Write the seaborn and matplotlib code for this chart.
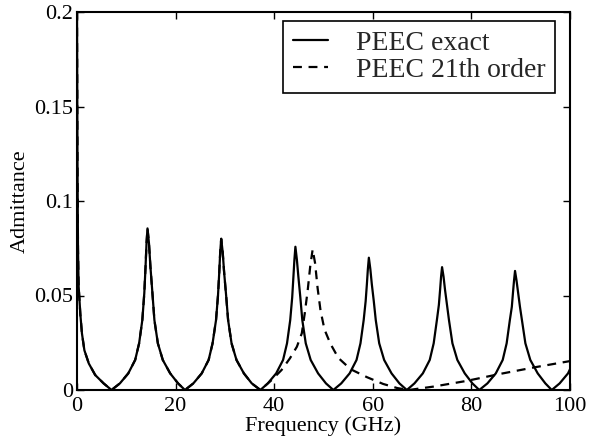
import matplotlib
matplotlib.use("Agg")
import matplotlib.pyplot as plt
import seaborn as sns
import pandas as pd
from matplotlib.ticker import FixedLocator, FuncFormatter

# ---- data ----
exact_x = [0, 0.1, 0.2, 0.33, 0.68, 1.0, 1.5, 2.4, 3.7, 5.4,
           7.0, 8.7, 10.4, 11.8, 12.6, 13.25, 13.65, 13.9, 14.1, 14.3, 14.6, 14.9, 15.3, 15.7, 16.4, 17.4, 18.9, 20.5,
           21.9, 23.6, 25.3, 26.7, 27.5, 28.2, 28.6, 28.85, 29.05, 29.25, 29.55, 29.85, 30.25, 30.65, 31.35, 32.35, 33.85, 35.45,
           37.2, 38.7, 40.4, 41.8, 42.6, 43.25, 43.65, 43.9, 44.1, 44.3, 44.6, 44.9, 45.3, 45.7, 46.4, 47.4, 48.9, 50.5,
           52.0, 53.6, 55.3, 56.7, 57.5, 58.15, 58.55, 58.8, 59.0, 59.2, 59.5, 59.8, 60.2, 60.6, 61.3, 62.3, 63.8, 65.4,
           66.9, 68.45, 70.15, 71.55, 72.35, 73.0, 73.4, 73.65, 73.85, 74.05, 74.35, 74.65, 75.05, 75.45, 76.15, 77.15, 78.65, 80.2,
           81.6, 83.25, 84.95, 86.35, 87.15, 87.8, 88.2, 88.45, 88.65, 88.85, 89.15, 89.45, 89.85, 90.25, 90.95, 91.95, 93.45, 95.0,
           96.3, 97.9, 99.6, 100]
exact_y = [0.2, 0.12, 0.075, 0.055, 0.040, 0.030, 0.021, 0.014, 0.0079, 0.0035,
           0, 0.0035, 0.0088, 0.0159, 0.0247, 0.037, 0.0512, 0.065, 0.0776, 0.0855, 0.0776, 0.065, 0.0512, 0.037, 0.0247, 0.0159, 0.0088, 0.0035,
           0, 0.0035, 0.0088, 0.0159, 0.0247, 0.037, 0.050, 0.062, 0.073, 0.080, 0.073, 0.062, 0.050, 0.037, 0.0247, 0.0159, 0.0088, 0.0035,
           0, 0.0035, 0.0088, 0.0159, 0.0247, 0.037, 0.049, 0.060, 0.069, 0.0758, 0.069, 0.060, 0.049, 0.037, 0.0247, 0.0159, 0.0088, 0.0035,
           0, 0.0035, 0.0088, 0.0159, 0.0247, 0.037, 0.047, 0.056, 0.064, 0.070, 0.064, 0.056, 0.047, 0.037, 0.0247, 0.0159, 0.0088, 0.0035,
           0, 0.0035, 0.0088, 0.0159, 0.0247, 0.037, 0.045, 0.053, 0.060, 0.065, 0.060, 0.053, 0.045, 0.037, 0.0247, 0.0159, 0.0088, 0.0035,
           0, 0.0035, 0.0088, 0.0159, 0.0247, 0.037, 0.044, 0.052, 0.058, 0.063, 0.058, 0.052, 0.044, 0.037, 0.0247, 0.0159, 0.0088, 0.0035,
           0, 0.0035, 0.0088, 0.0110]

# 21th order model coincides with the exact curve up to ~37.2 GHz
order21_shared_until = 37.2
order21_tail_x = [39.5, 41.5, 43.2, 44.6, 45.6, 46.2, 46.8, 47.3, 47.8, 48.3, 48.8, 49.4, 50.2, 51.4, 53.0,
                  55.5, 58.8, 62.1, 65.0, 67.3, 72.3, 79.0, 85.8, 92.6, 100]
order21_tail_y = [0.0053, 0.0106, 0.0168, 0.0229, 0.030, 0.0406, 0.0529, 0.0653, 0.0744, 0.067, 0.054, 0.042, 0.032, 0.0245, 0.017,
                  0.011, 0.0068, 0.0032, 0.001, 0, 0.0018, 0.0048, 0.0085, 0.0119, 0.0153]

series_labels = ["PEEC exact", "PEEC 21th order"]
x_ticks = [0, 20, 40, 60, 80, 100]
y_ticks = [0, 0.05, 0.1, 0.15, 0.2]

order21_x = [x for x in exact_x if x <= order21_shared_until] + order21_tail_x
order21_y = [y for x, y in zip(exact_x, exact_y) if x <= order21_shared_until] + order21_tail_y

df_exact = pd.DataFrame({"f": exact_x, "Y": exact_y})
df_21 = pd.DataFrame({"f": order21_x, "Y": order21_y})

# ---- style ----
sns.set_style("ticks")
plt.rcParams["font.family"] = ["Liberation Serif", "DejaVu Serif"]

fig = plt.figure(figsize=(6.08, 4.42), dpi=100)
ax = fig.add_axes([77 / 608, 52 / 442, 493 / 608, 378 / 442])

LW = 1.6
sns.lineplot(data=df_exact, x="f", y="Y", ax=ax, color="black", linewidth=LW,
             estimator=None, sort=False, label=series_labels[0])
sns.lineplot(data=df_21, x="f", y="Y", ax=ax, color="black", linewidth=LW,
             linestyle=(0, (4.0, 3.0)), estimator=None, sort=False, label=series_labels[1])

ax.set_xlim(0, 100)
ax.set_ylim(0, 0.2)
ax.xaxis.set_major_locator(FixedLocator(x_ticks))
ax.yaxis.set_major_locator(FixedLocator(y_ticks))
ax.yaxis.set_major_formatter(FuncFormatter(lambda v, p: "%g" % v))
ax.xaxis.set_major_formatter(FuncFormatter(lambda v, p: "%g" % v))
ax.tick_params(direction="in", length=5, width=1, top=True, right=True,
               labelsize=16, color="black", labelcolor="black")
ax.tick_params(axis="x", pad=5)
ax.tick_params(axis="y", pad=3)
for s in ax.spines.values():
    s.set_linewidth(1.5)
    s.set_color("black")
    s.set_visible(True)

ax.set_xlabel("Frequency (GHz)", fontsize=16, labelpad=0, color="black")
ax.set_ylabel("Admittance", fontsize=16, labelpad=3, color="black")

leg = ax.legend(loc="upper right", bbox_to_anchor=((555 - 77) / 493, (390 - 21) / 378),
                borderaxespad=0, fontsize=20, handlelength=1.25, handletextpad=1.0,
                borderpad=0.35, labelspacing=0.05, fancybox=False, framealpha=1,
                edgecolor="black")
leg.get_frame().set_linewidth(1.2)
for line in leg.get_lines():
    line.set_linewidth(LW)

fig.savefig("out.png", dpi=100)
